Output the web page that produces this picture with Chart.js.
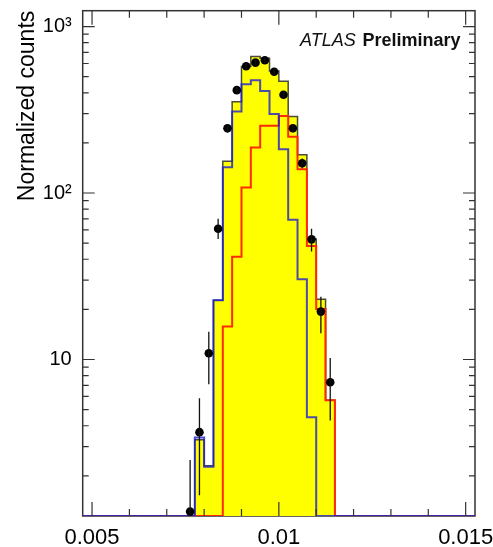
<!DOCTYPE html>
<html>
<head>
<meta charset="utf-8">
<script src="https://cdn.jsdelivr.net/npm/chart.js@4.4.1/dist/chart.umd.min.js"></script>
<style>
  html, body { margin: 0; padding: 0; background: #fff; }
  canvas { display: block; }
</style>
</head>
<body>
<canvas id="histo" width="493" height="547"></canvas>
<script>
// histogram bin edges (bin width 0.00025)
const binEdges = [0.0075, 0.00775, 0.008, 0.00825, 0.0085, 0.00875, 0.009, 0.00925,
                  0.0095, 0.00975, 0.01, 0.01025, 0.0105, 0.01075, 0.011, 0.01125, 0.0115];
// one value per bin
const totalCounts = [0, 3.3, 2.3, 22.7, 155, 353, 575, 660, 645, 540, 470, 288, 170, 53, 23, 5.7];
const blueCounts  = [0, 3.4, 2.27, 22.7, 143, 309, 450, 475, 410, 298, 183, 69, 30.3, 4.5, 0, 0];
const redCounts   = [0, 0, 0, 0, 15.8, 41.4, 108, 188, 254, 254, 290, 218, 139, 48, 20.1, 5.7];
// data points at bin centres with error bars
const dataCounts  = [1.22, 3.66, 10.9, 61, 245, 415, 578, 607, 628, 535, 389, 245, 151, 52.7, 19.4, 7.3];
const dataErrLow  = [0, 1.53, 7.1, 53, 230, 395, 553, 582, 603, 512, 372, 232, 141, 44.6, 14.4, 4.3];
const dataErrHigh = [2.49, 5.85, 14.7, 70, 260, 435, 603, 632, 653, 558, 406, 258, 161, 61, 23.8, 10.2];

const xRange = [0.00475, 0.01525];
const yRange = [1.148, 1245];
const xTickValues = [0.005, 0.01, 0.015];
const xTickLabels = ['0.005', '0.01', '0.015'];
const yTickValues = [10, 100, 1000];
const yTickLabels = ['10', '10²', '10³'];

const FONT = '"Liberation Sans", Arial, Helvetica, sans-serif';

function stepPoints(counts) {
  const pts = [{x: xRange[0], y: yRange[0]}];
  counts.forEach((c, i) => pts.push({x: binEdges[i], y: c > 0 ? c : yRange[0]}));
  pts.push({x: binEdges[binEdges.length - 1], y: yRange[0]});
  pts.push({x: xRange[1], y: yRange[0]});
  return pts;
}

const dataPoints = dataCounts.map((v, i) => ({x: (binEdges[i] + binEdges[i + 1]) / 2, y: v}));

const frameTicks = {
  id: 'frameTicks',
  beforeDatasetsDraw(chart) {
    const {ctx, chartArea: a} = chart;
    ctx.save();
    ctx.strokeStyle = '#333';
    ctx.lineWidth = 1.5;
    ctx.strokeRect(a.left, a.top, a.right - a.left, a.bottom - a.top);
    ctx.restore();
  },
  afterDatasetsDraw(chart) {
    const {ctx, chartArea: a} = chart;
    const xs = chart.scales.x, ys = chart.scales.y;
    ctx.save();
    // error bars
    ctx.beginPath();
    ctx.rect(a.left, a.top, a.right - a.left, a.bottom - a.top);
    ctx.clip();
    ctx.strokeStyle = '#111';
    ctx.lineWidth = 1.3;
    dataPoints.forEach((p, i) => {
      const px = xs.getPixelForValue(p.x);
      const lo = dataErrLow[i] > 0 ? ys.getPixelForValue(dataErrLow[i]) : a.bottom + 5;
      const hi = ys.getPixelForValue(dataErrHigh[i]);
      ctx.beginPath();
      ctx.moveTo(px, lo);
      ctx.lineTo(px, hi);
      ctx.stroke();
    });
    ctx.restore();

    ctx.save();
    ctx.strokeStyle = '#333';
    ctx.lineWidth = 1.2;
    ctx.beginPath();
    for (let v = 0.005; v <= 0.0150001; v += 0.001) {
      const px = xs.getPixelForValue(v);
      const major = xTickValues.some(t => Math.abs(t - v) < 1e-7);
      const len = major ? 14 : 7;
      ctx.moveTo(px, a.bottom); ctx.lineTo(px, a.bottom - len);
      ctx.moveTo(px, a.top); ctx.lineTo(px, a.top + len);
    }
    for (let d = 1; d <= 1000; d *= 10) {
      for (let m = 1; m <= 9; m++) {
        const v = d * m;
        if (v < yRange[0] || v > yRange[1]) continue;
        const py = ys.getPixelForValue(v);
        const len = m === 1 ? 12 : 6;
        ctx.moveTo(a.left, py); ctx.lineTo(a.left + len, py);
        ctx.moveTo(a.right, py); ctx.lineTo(a.right - len, py);
      }
    }
    ctx.stroke();
    ctx.restore();

    // label
    ctx.save();
    ctx.fillStyle = '#111';
    ctx.textBaseline = 'alphabetic';
    ctx.font = 'italic 18px ' + FONT;
    ctx.fillText('ATLAS', 300, 46);
    ctx.font = 'bold 18px ' + FONT;
    ctx.fillText('Preliminary', 362.5, 46);
    ctx.restore();
  }
};

function noPad(scale) {
  scale.paddingLeft = 0;
  scale.paddingRight = 0;
  scale.paddingTop = 0;
  scale.paddingBottom = 0;
}

const ctx = document.getElementById('histo').getContext('2d');
const histoChart = new Chart(ctx, {
  type: 'scatter',
  data: {
    datasets: [
      {
        label: 'Data',
        data: dataPoints,
        showLine: false,
        pointRadius: 4.3,
        pointBackgroundColor: '#000',
        pointBorderColor: '#000',
        pointBorderWidth: 0,
        clip: false,
        order: 0
      },
      {
        label: 'Blue',
        data: stepPoints(blueCounts),
        showLine: true,
        stepped: 'before',
        borderColor: 'rgba(30,30,210,0.8)',
        borderWidth: 2,
        pointRadius: 0,
        fill: false,
        order: 1
      },
      {
        label: 'Red',
        data: stepPoints(redCounts),
        showLine: true,
        stepped: 'before',
        borderColor: '#ff2a00',
        borderWidth: 2,
        pointRadius: 0,
        fill: false,
        order: 2
      },
      {
        label: 'Total',
        data: stepPoints(totalCounts),
        showLine: true,
        stepped: 'before',
        borderColor: '#4a4a3a',
        borderWidth: 1.5,
        backgroundColor: '#ffff00',
        pointRadius: 0,
        fill: 'start',
        order: 3
      }
    ]
  },
  options: {
    responsive: false,
    animation: false,
    devicePixelRatio: 1,
    layout: { padding: { top: 10.7, right: 18, left: 0, bottom: 0 } },
    plugins: {
      legend: { display: false },
      tooltip: { enabled: false }
    },
    scales: {
      x: {
        type: 'linear',
        min: xRange[0],
        max: xRange[1],
        grid: { display: false },
        border: { display: false },
        afterBuildTicks: (scale) => { scale.ticks = xTickValues.map(v => ({value: v})); },
        afterFit: (scale) => { scale.height = 31; noPad(scale); },
        ticks: {
          color: '#000',
          padding: 1,
          maxRotation: 0,
          font: { family: FONT, size: 22 },
          callback: (v) => xTickLabels[xTickValues.indexOf(v)]
        }
      },
      y: {
        type: 'logarithmic',
        min: yRange[0],
        max: yRange[1],
        grid: { display: false },
        border: { display: false },
        afterBuildTicks: (scale) => { scale.ticks = yTickValues.map(v => ({value: v})); },
        afterFit: (scale) => { scale.width = 82.7; noPad(scale); },
        ticks: {
          color: '#000',
          padding: 3,
          font: { family: FONT, size: 20 },
          callback: (v) => yTickLabels[yTickValues.indexOf(v)]
        },
        title: {
          display: true,
          text: 'Normalized counts',
          align: 'end',
          color: '#000',
          padding: { top: 14, bottom: 0 },
          font: { family: FONT, size: 23 }
        }
      }
    }
  },
  plugins: [frameTicks]
});
</script>
</body>
</html>
